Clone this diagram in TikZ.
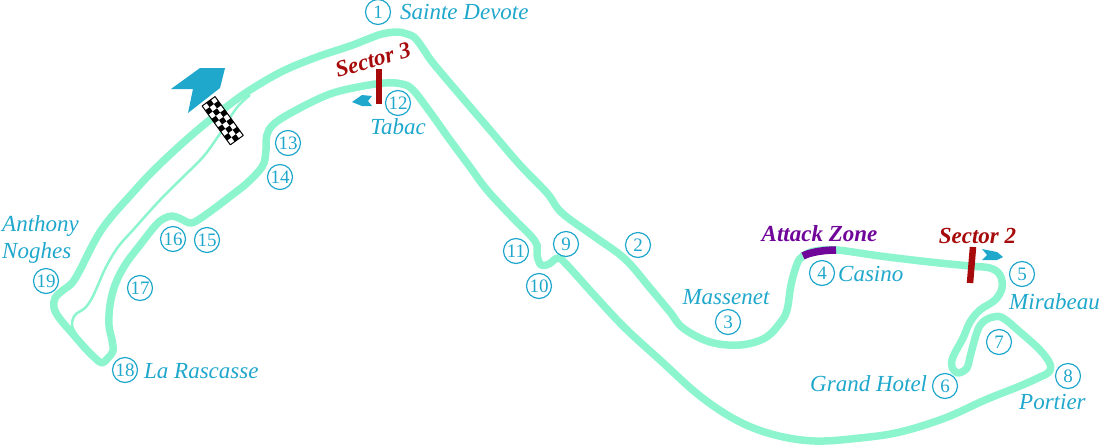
\documentclass[tikz,border=0pt]{standalone}
\usepackage{fontspec}
\setmainfont{Liberation Serif}
\definecolor{trackgreen}{HTML}{8CF5CE}
\definecolor{cornerblue}{HTML}{1FA7CC}
\definecolor{sectorred}{HTML}{A60A0A}
\definecolor{zonepurple}{HTML}{70059A}
\begin{document}
\begin{tikzpicture}[x=1pt,y=-1pt,line join=round,
    corner node/.style={circle,draw=cornerblue,line width=1.2pt,text=cornerblue,inner sep=0pt,minimum size=25pt,font=\fontsize{19}{19}\selectfont},
    name node/.style={text=cornerblue,inner sep=0pt,font=\fontsize{23}{27}\selectfont\itshape,align=left},
    sector node/.style={text=sectorred,inner sep=0pt,font=\fontsize{23}{24}\selectfont\itshape\bfseries},
    main track/.style={draw=trackgreen,line width=7.5pt},
    pit lane/.style={draw=trackgreen,line width=2.5pt},
    sector bar/.style={draw=sectorred,line width=6.5pt},
    sector arrow/.style={fill=cornerblue,draw=none}]

    \useasboundingbox (0,0) rectangle (1100,445);

    % Draw pit lane
    \draw[pit lane] plot[smooth,tension=0.6] coordinates {
        (250,95) (240,104) (233,113) (225,126) (217,138) (203,157) (180,180) (160,200) (133,230) (118,247) (106,267) (98,285) (92,298) (85,308) (75,315) (72,325) (76,334)};

    % Draw track
    \draw[main track] plot[smooth cycle,tension=0.6] coordinates {
        (397,32) (382,34) (368,39) (350,46) (317,57) (283,71) (250,90) (225,108) (200,128) (175,150) (150,174) (128,198) (112,216)
        (100,232) (90,250) (80,270) (72,283) (62,291) (55,298) (54,308) (60,319) (72,333) (85,348) (95,358) (102,363) (108,358) (113,351)
        (112,340) (109,325) (110,305) (115,285) (125,265) (140,245) (155,226) (163,219) (172,216) (181,219) (190,223) (198,220)
        (215,208) (232,195) (246,184) (258,172) (264,163) (266,150) (267,135) (275,123) (300,108) (330,94) (358,87) (385,83) (402,84)
        (413,90) (430,112) (450,140) (470,167) (487,190) (513,218) (530,235) (537,245) (537,255) (541,265) (549,264) (558,258) (567,265)
        (595,296) (625,328) (660,360) (700,396) (738,421) (775,435) (815,441) (860,438) (900,432) (945,418) (985,400) (1020,386) (1040,377)
        (1049,372) (1050,364) (1040,350) (1020,332) (1003,318) (993,317) (983,322) (977,332) (970,357) (967,368) (958,373) (952,367) (953,357)
        (963,338) (970,322) (980,310) (995,300) (1002,288) (1000,275) (990,268) (970,266) (930,262) (880,256) (837,250) (815,251) (803,256)
        (797,264) (791,285) (787,310) (780,323) (765,338) (740,345) (710,342) (683,328) (670,312) (650,288) (625,259) (595,237) (562,213)
        (547,193) (520,165) (490,130) (460,95) (433,63) (424,50) (415,38) (407,34)};

    % Draw flag and start arrow
    \fill[cornerblue] (171,89) -- (200,68) -- (225,68) -- (220,88) -- (188,113) -- (193,89) -- cycle;
    \begin{scope}[shift={(222.7,120.7)},rotate=-54]
        \fill[white] (-24,-8) rectangle (24,8);
        \foreach \col in {0,...,8} {
            \foreach \row in {0,1,2} {
                \pgfmathparse{int(mod(\col+\row,2))}
                \ifnum\pgfmathresult=1
                    \fill[black] (-24+\col*5.33,-8+\row*5.33) rectangle ++(5.33,5.33);
                \fi
            }
        }
        \draw[black,line width=1pt] (-24,-8) rectangle (24,8);
    \end{scope}

    % Draw attack zone
    \draw[draw=zonepurple,line width=7.5pt] (803,256) .. controls (810,252) and (825,250) .. (836,250);

    % Draw sectors
    \coordinate (s3top) at (379,69);
    \coordinate (s3bot) at (379,104);
    \coordinate (s2top) at (973,247);
    \coordinate (s2bot) at (970,283);
    \draw[sector bar] (s3top) -- (s3bot);
    \draw[sector bar] (s2top) -- (s2bot);
    \fill[sector arrow] (352,102) -- (362,95) -- (372,96) -- (368,101) -- (372,106) -- (362,106) -- cycle;
    \fill[sector arrow] (982,249) -- (997,252) -- (1003,257) -- (997,260) -- (982,260) -- (987,255) -- cycle;
    \node[sector node,rotate=16] (sector3) at (373,60) {Sector 3};
    \node[sector node] (sector2) at (977.5,236) {Sector 2};
    \node[text=zonepurple,inner sep=0pt,font=\fontsize{23}{24}\selectfont\itshape\bfseries] (attack) at (819.5,234) {Attack Zone};

    % Define corners
    \node[corner node] (c1) at (378,12) {1};
    \node[corner node] (c2) at (638,245) {2};
    \node[corner node] (c3) at (728,322) {3};
    \node[corner node] (c4) at (822,273) {4};
    \node[corner node] (c5) at (1022,274) {5};
    \node[corner node] (c6) at (945,386) {6};
    \node[corner node] (c7) at (999,342) {7};
    \node[corner node] (c8) at (1068,376) {8};
    \node[corner node] (c9) at (566,244) {9};
    \node[corner node] (c10) at (539,286) {10};
    \node[corner node] (c11) at (516,251) {11};
    \node[corner node] (c12) at (398,103) {12};
    \node[corner node] (c13) at (288,143) {13};
    \node[corner node] (c14) at (280,177) {14};
    \node[corner node] (c15) at (207,240) {15};
    \node[corner node] (c16) at (173,239) {16};
    \node[corner node] (c17) at (140,288) {17};
    \node[corner node] (c18) at (125,370) {18};
    \node[corner node] (c19) at (46,281) {19};

    % Define names
    \node[name node,anchor=west] (devote) at (400,12) {Sainte Devote};
    \node[name node] (tabac) at (398,127) {Tabac};
    \node[name node] (massenet) at (726,297) {Massenet};
    \node[name node,anchor=west] (casino) at (838,274) {Casino};
    \node[name node,anchor=west] (mirabeau) at (1009,302) {Mirabeau};
    \node[name node,anchor=west] (hotel) at (810,384) {Grand Hotel};
    \node[name node,anchor=west] (portier) at (1019,402) {Portier};
    \node[name node,anchor=west] (rascasse) at (144,371) {La Rascasse};
    \node[name node,anchor=west] (noghes) at (2,239) {Anthony\\Noghes};
\end{tikzpicture}
\end{document}
